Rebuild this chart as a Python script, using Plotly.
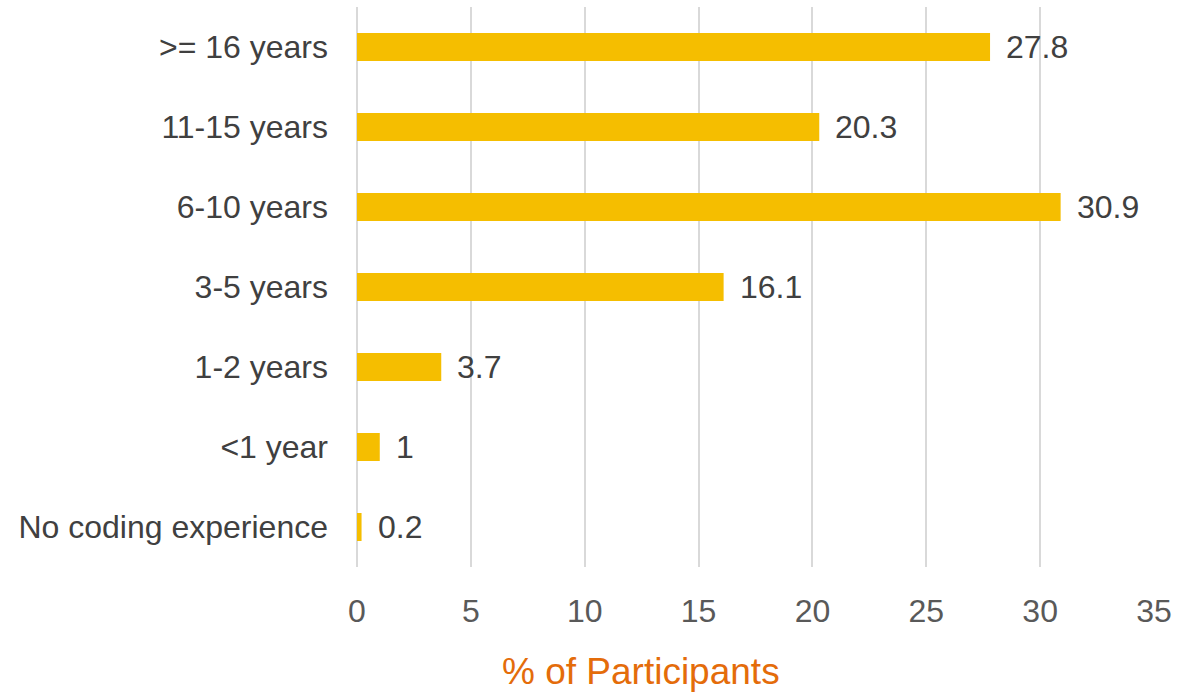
import plotly.graph_objects as go

# Years of coding experience, listed bottom to top
categories = ["No coding experience", "<1 year", "1-2 years", "3-5 years",
              "6-10 years", "11-15 years", ">= 16 years"]
percent = [0.2, 1, 3.7, 16.1, 30.9, 20.3, 27.8]
x_ticks = [0, 5, 10, 15, 20, 25, 30, 35]

FONT = "Liberation Sans, Arial, sans-serif"

fig = go.Figure(
    go.Bar(
        y=categories,
        x=percent,
        orientation="h",
        marker=dict(color="#F5BE00", line=dict(width=0)),
        width=0.35,
        hoverinfo="skip",
    )
)

# value labels to the right of each bar
for cat, val in zip(categories, percent):
    fig.add_annotation(
        x=val, y=cat, text=f"{val:g}", showarrow=False,
        xanchor="left", yanchor="middle", xshift=14,
        font=dict(family=FONT, size=32, color="#404040"),
    )

# axis title, placed under the chart
fig.add_annotation(
    x=0.356, y=-0.187, xref="paper", yref="paper",
    text="% of Participants", showarrow=False,
    xanchor="center", yanchor="middle",
    font=dict(family=FONT, size=37, color="#E46C0A"),
)

fig.update_layout(
    width=1194, height=695,
    margin=dict(l=357, r=40, t=7, b=128),
    plot_bgcolor="white", paper_bgcolor="white",
    showlegend=False,
    font=dict(family=FONT, size=32, color="#595959"),
)

fig.update_xaxes(
    range=[0, 35], tickvals=x_ticks,
    showgrid=True, gridcolor="#D9D9D9", gridwidth=2,
    zeroline=True, zerolinecolor="#D9D9D9", zerolinewidth=2,
    showline=False, ticks="", ticklabelstandoff=22,
    tickfont=dict(family=FONT, size=32, color="#595959"),
    fixedrange=True,
)
fig.update_yaxes(
    categoryorder="array", categoryarray=categories,
    showgrid=False, showline=False, ticks="", ticklabelstandoff=28,
    tickfont=dict(family=FONT, size=32, color="#404040"),
    fixedrange=True,
)

fig.write_html("out.html")
